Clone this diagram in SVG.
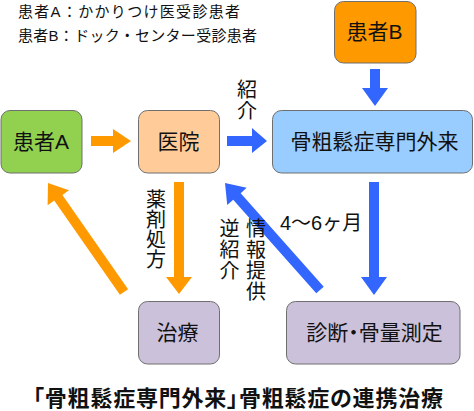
<svg xmlns="http://www.w3.org/2000/svg" width="474" height="411" viewBox="0 0 474 411">
<style>
text{font-family:"Liberation Sans","Noto Sans CJK JP",sans-serif;fill:#111;}
.box{stroke:#6f6f6f;stroke-width:1;}
.lbl{font-size:21px;text-anchor:middle;dominant-baseline:central;}
.leg{font-size:15px;dominant-baseline:central;}
.vt{font-size:20px;text-anchor:middle;dominant-baseline:central;}
.org{fill:#FF9900;}
.blu{fill:#3366FF;}
</style>
<rect width="474" height="411" fill="#ffffff"/>
<g id="legend">
<text class="leg" x="18" y="11" textLength="222" lengthAdjust="spacing">患者A：かかりつけ医受診患者</text>
<text class="leg" x="18" y="35.5" textLength="239" lengthAdjust="spacing">患者B：ドック・センター受診患者</text>
</g>
<g id="patientA">
<rect class="box" x="1" y="110.5" width="81" height="62.5" rx="9" fill="#92D050"/>
<text class="lbl" x="41" y="141">患者A</text>
</g>
<g id="clinic">
<rect class="box" x="138.5" y="110.5" width="81" height="62.5" rx="9" fill="#FFCC99"/>
<text class="lbl" x="178.5" y="141">医院</text>
</g>
<g id="specialist">
<rect class="box" x="272.5" y="110.5" width="200" height="62.5" rx="9" fill="#99CCFF"/>
<text class="lbl" x="374.5" y="141">骨粗鬆症専門外来</text>
</g>
<g id="patientB">
<rect class="box" x="334.5" y="1.5" width="81.5" height="61.5" rx="9" fill="#FF9900"/>
<text class="lbl" x="374.5" y="31">患者B</text>
</g>
<g id="treatment">
<rect class="box" x="138.5" y="301.5" width="81" height="62.5" rx="9" fill="#CCC1DA"/>
<text class="lbl" x="177.5" y="332">治療</text>
</g>
<g id="diagnosis">
<rect class="box" x="286.5" y="301.5" width="173.5" height="62.5" rx="9" fill="#CCC1DA"/>
<text class="lbl" x="374.5" y="332" style="font-feature-settings:'palt'">診断・骨量測定</text>
</g>
<g id="connectors">
<polygon class="org" points="91,136 113,136 113,129 131,141 113,153 113,146 91,146"/>
<polygon class="blu" points="227,136 252,136 252,128 267,141 252,153 252,146 227,146"/>
<polygon class="blu" points="370,69 380,69 380,88 388,88 375,106 362,88 370,88"/>
<polygon class="org" points="174,182 184,182 184,277 192,277 179,294 166,277 174,277"/>
<polygon class="blu" points="369,182 379,182 379,277 387,277 374,295 361,277 369,277"/>
<polygon class="org" points="128.1,289.14 62.39,194.9 68.95,190.33 48,183 47.63,205.19 54.19,200.62 119.9,294.86"/>
<polygon class="blu" points="323.74,286.68 240.69,193.14 246.67,187.83 225,183 227.23,205.09 233.21,199.78 316.26,293.32"/>
<text class="vt" x="247"><tspan x="247" y="90">紹</tspan><tspan x="247" y="111">介</tspan></text>
<text class="vt"><tspan x="156" y="200">薬</tspan><tspan x="156" y="220">剤</tspan><tspan x="156" y="240">処</tspan><tspan x="156" y="260">方</tspan></text>
<text class="vt"><tspan x="229.5" y="229">逆</tspan><tspan x="229.5" y="250">紹</tspan><tspan x="229.5" y="271">介</tspan></text>
<text class="vt"><tspan x="256" y="229">情</tspan><tspan x="256" y="250">報</tspan><tspan x="256" y="271">提</tspan><tspan x="256" y="292">供</tspan></text>
<text class="leg" style="font-size:20px" x="280" y="223">4～6ヶ月</text>
</g>
<g id="title">
<text x="33" y="398.5" style="font-size:22px;font-weight:bold;dominant-baseline:central;font-feature-settings:'palt'" textLength="410" lengthAdjust="spacing">「骨粗鬆症専門外来」骨粗鬆症の連携治療</text>
</g>
</svg>
